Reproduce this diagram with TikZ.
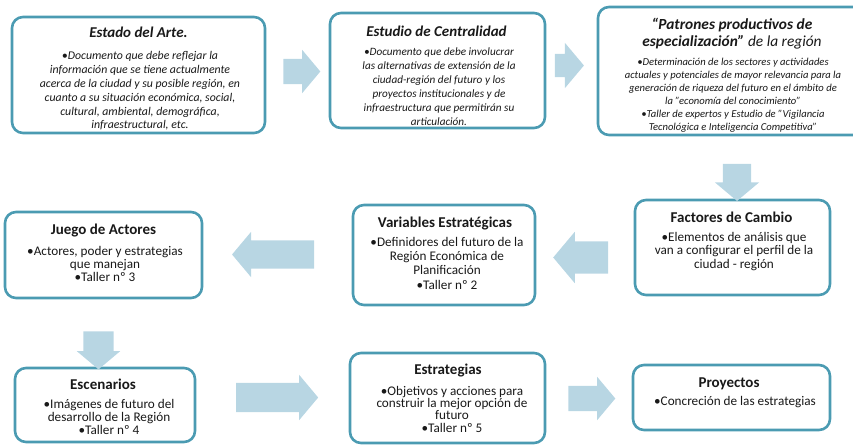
\documentclass[tikz,border=0pt]{standalone}
\usepackage{fontspec}
\setmainfont{Carlito}
\usetikzlibrary{shapes.arrows}
\definecolor{borde}{RGB}{75,155,178}
\definecolor{flecha}{RGB}{184,214,227}
\definecolor{texto}{RGB}{25,25,25}
\tikzset{
  caja/.style={draw=borde, line width=2.6pt, rounded corners=11pt, fill=white, inner sep=0pt},
  titulo/.style={anchor=base, font=\fontsize{15}{17}\selectfont\bfseries, text=texto, inner sep=0pt},
  cuerpo/.style={anchor=north, align=center, text=texto, inner sep=0pt},
  bloque/.style={single arrow, fill=flecha, draw=none, inner xsep=0pt, single arrow tip angle=100},
}
\begin{document}
\begin{tikzpicture}[x=1pt,y=-1pt]
\useasboundingbox (0,0) rectangle (853,447);
% fila 1
\node[caja, minimum width=253pt, minimum height=116pt] (estado) at (138.5,75) {};
\node[titulo, font=\fontsize{15}{17}\selectfont\bfseries\itshape] (t-estado) at (138.5,37.5) {Estado del Arte.};
\node[cuerpo, font=\fontsize{11.8}{13.8}\selectfont\itshape] (c-estado) at (140,51.5) {•Documento que debe reflejar la\\información que se tiene actualmente\\acerca de la ciudad y su posible región, en\\cuanto a su situación económica, social,\\cultural, ambiental, demográfica,\\infraestructural, etc.};
\node[caja, minimum width=215pt, minimum height=115pt] (centralidad) at (437.5,70.5) {};
\node[titulo, font=\fontsize{15}{17}\selectfont\bfseries\itshape] (t-centralidad) at (436.5,36.5) {Estudio de Centralidad};
\node[cuerpo, font=\fontsize{11.2}{14}\selectfont\itshape] (c-centralidad) at (439,47.8) {•Documento que debe involucrar\\las alternativas de extensión de la\\ciudad-región del futuro y los\\proyectos institucionales y de\\infraestructura que permitirán su\\articulación.};
\node[caja, minimum width=268pt, minimum height=128pt] (patrones) at (732,71) {};
\node[cuerpo, font=\fontsize{15.4}{17}\selectfont\itshape] (t-patrones) at (732,18) {\textbf{“Patrones productivos de}\\\textbf{especialización”} de la región};
\node[cuerpo, font=\fontsize{10.6}{13}\selectfont\itshape] (c-patrones) at (733,58) {•Determinación de los sectores y actividades\\actuales y potenciales de mayor relevancia para la\\generación de riqueza del futuro en el ámbito de\\la "economía del conocimiento"\\•Taller de expertos  y Estudio de "Vigilancia\\Tecnológica e Inteligencia Competitiva"};
% fila 2
\node[caja, minimum width=197pt, minimum height=86pt] (actores) at (103.5,255) {};
\node[titulo] (t-actores) at (103.5,234) {Juego de Actores};
\node[cuerpo, font=\fontsize{13.2}{13.2}\selectfont] (c-actores) at (105,245.8) {•Actores, poder y estrategias\\que manejan\\•Taller nº 3};
\node[caja, minimum width=182pt, minimum height=100pt] (variables) at (444,255) {};
\node[titulo] (t-variables) at (445,227) {Variables Estratégicas};
\node[cuerpo, font=\fontsize{13.2}{14.3}\selectfont] (c-variables) at (447,236.8) {•Definidores del futuro de la\\Región Económica de\\Planificación\\•Taller nº 2};
\node[caja, minimum width=195pt, minimum height=95pt] (factores) at (732.5,247.5) {};
\node[titulo] (t-factores) at (731.5,222) {Factores de Cambio};
\node[cuerpo, font=\fontsize{13.2}{13.5}\selectfont] (c-factores) at (734,231.8) {•Elementos de análisis que\\van a configurar el perfil de la\\ciudad - región};
% fila 3
\node[caja, minimum width=180pt, minimum height=74pt] (escenarios) at (105,405) {};
\node[titulo] (t-escenarios) at (103,389) {Escenarios};
\node[cuerpo, font=\fontsize{13.2}{13.2}\selectfont] (c-escenarios) at (109,398.8) {•Imágenes de futuro del\\desarrollo de la Región\\•Taller nº 4};
\node[caja, minimum width=195pt, minimum height=90pt] (estrategias) at (447.5,398) {};
\node[titulo] (t-estrategias) at (448,374) {Estrategias};
\node[cuerpo, font=\fontsize{13.2}{12.4}\selectfont] (c-estrategias) at (452,385.8) {•Objetivos y acciones para\\construir la mejor opción de\\futuro\\•Taller nº 5};
\node[caja, minimum width=197pt, minimum height=65pt] (proyectos) at (731.5,397.5) {};
\node[titulo] (t-proyectos) at (729,387) {Proyectos};
\node[cuerpo, font=\fontsize{13.2}{13}\selectfont] (c-proyectos) at (735,395.8) {•Concreción de las estrategias};
% flechas
\node[bloque, minimum height=37pt, inner ysep=12.5pt, single arrow head extend=9pt] (f1) at (296.5,71.5) {};
\node[bloque, minimum height=29pt, inner ysep=11.5pt, single arrow head extend=11pt] (f2) at (564.5,65.5) {};
\node[bloque, rotate=270, minimum height=37pt, inner ysep=14pt, single arrow head extend=8pt] (f3) at (737,176.5) {};
\node[bloque, rotate=180, minimum height=55pt, inner ysep=16pt, single arrow head extend=9.5pt] (f4) at (587.5,257.5) {};
\node[bloque, rotate=180, minimum height=82pt, inner ysep=14pt, single arrow head extend=8.5pt] (f5) at (279,254.5) {};
\node[bloque, rotate=270, minimum height=38pt, inner ysep=15pt, single arrow head extend=6.5pt] (f6) at (98.5,344) {};
\node[bloque, minimum height=82pt, inner ysep=14.5pt, single arrow head extend=8pt] (f7) at (271,397.5) {};
\node[bloque, minimum height=47pt, inner ysep=12.5pt, single arrow head extend=9pt] (f8) at (586.5,398.5) {};
\end{tikzpicture}
\end{document}
